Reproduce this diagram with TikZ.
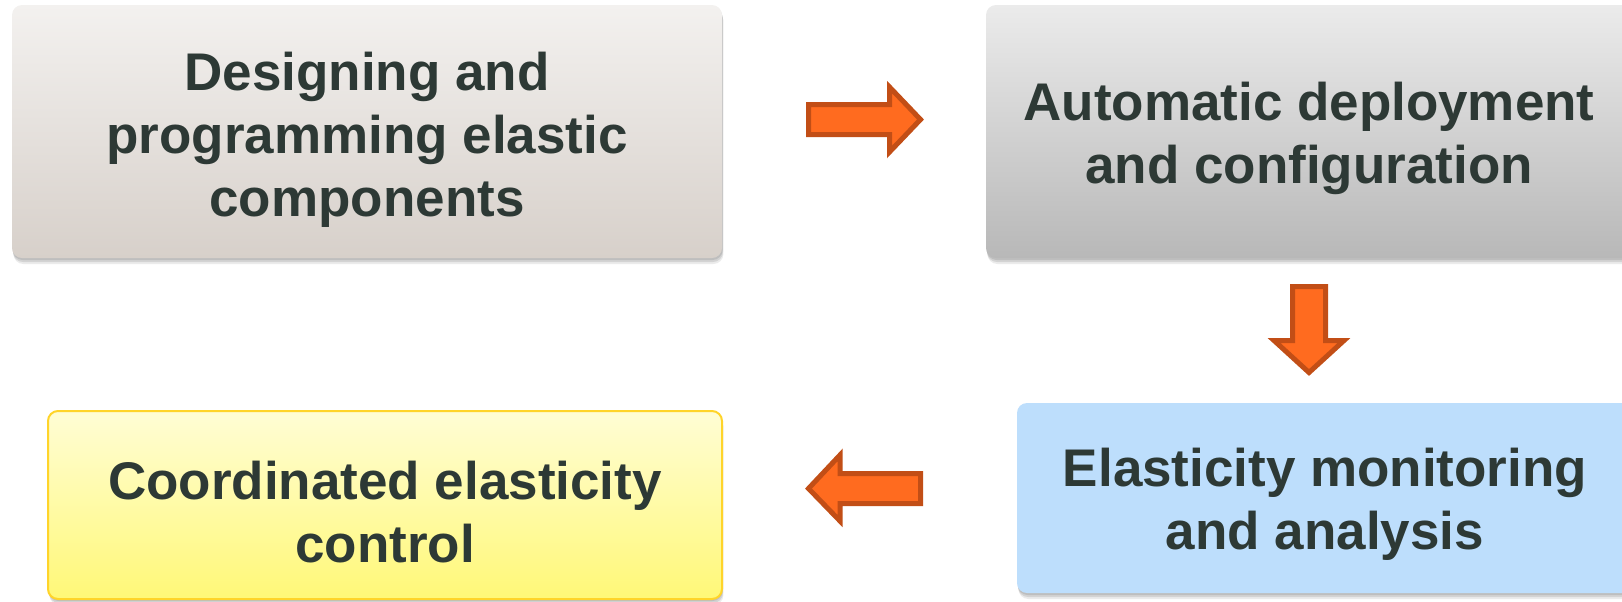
\documentclass[tikz,border=0pt]{standalone}
\usepackage{fontspec}
\setmainfont{Liberation Sans}
\usetikzlibrary{calc,shadows}
\definecolor{txt}{HTML}{2D3935}
\definecolor{greyAtop}{HTML}{F3F1EF}
\definecolor{greyAbot}{HTML}{D7D0CA}
\definecolor{greyBtop}{HTML}{EBEBEB}
\definecolor{greyBbot}{HTML}{B8B8B8}
\definecolor{skyfill}{HTML}{BDDEFC}
\definecolor{lemontop}{HTML}{FFFDD5}
\definecolor{lemonbot}{HTML}{FFF877}
\definecolor{lemonrim}{HTML}{FFD42A}
\definecolor{arrowfill}{HTML}{FF6B1F}
\definecolor{arrowrim}{HTML}{C24E16}
\tikzset{
  stagebox/.style={rounded corners=5pt, inner sep=0pt,
    general shadow={fill=black, opacity=.10, shadow yshift=-1pt, shadow xshift=0.3pt},
    general shadow={fill=black, opacity=.10, shadow yshift=-2pt, shadow xshift=0.5pt},
    general shadow={fill=black, opacity=.08, shadow yshift=-3pt, shadow xshift=0.7pt}},
  stagetext/.style={align=center, text=txt, inner sep=0pt,
    font=\fontsize{26.5pt}{31.5pt}\selectfont\bfseries},
  blockarrow/.style={fill=arrowfill, draw=arrowrim, line width=2.5pt, line join=miter}
}
\begin{document}
\begin{tikzpicture}[x=0.5pt,y=-0.5pt]
\useasboundingbox (0,0) rectangle (1622,601);

% the four stages
\node[stagebox, top color=greyAtop, bottom color=greyAbot,
      minimum width=355pt, minimum height=126.5pt] (design) at (367,131.5) {};
\node[stagebox, top color=greyBtop, bottom color=greyBbot,
      minimum width=323pt, minimum height=126.5pt] (deploy) at (1309,131.5) {};
\node[stagebox, fill=skyfill,
      minimum width=308pt, minimum height=95pt] (monitor) at (1325,498) {};
\node[stagebox, top color=lemontop, bottom color=lemonbot, draw=lemonrim, line width=1pt,
      minimum width=337pt, minimum height=94pt] (control) at (385,505) {};

% stage labels
\node[stagetext] (designtxt) at ($(design.center)+(0,8)$)
  {Designing and\\programming elastic\\components};
\node[stagetext] (deploytxt) at ($(deploy.center)+(0,7)$)
  {Automatic deployment\\and configuration};
\node[stagetext] (monitortxt) at ($(monitor.center)+(0,6)$)
  {Elasticity monitoring\\and analysis};
\node[stagetext] (controltxt) at ($(control.center)+(0,7)$)
  {Coordinated elasticity\\control};

% block arrows between the stages
\draw[blockarrow] (808.5,104.5) -- (889.5,104.5) -- (889.5,87) -- (920.5,119.5)
  -- (889.5,152) -- (889.5,134.5) -- (808.5,134.5) -- cycle;
\draw[blockarrow] (1292.5,286.5) -- (1325.5,286.5) -- (1325.5,340.5) -- (1344,340.5)
  -- (1309,372.5) -- (1274,340.5) -- (1292.5,340.5) -- cycle;
\draw[blockarrow] (920.5,473.5) -- (840,473.5) -- (840,455) -- (808.5,488.5)
  -- (840,521) -- (840,503.5) -- (920.5,503.5) -- cycle;
\end{tikzpicture}
\end{document}
